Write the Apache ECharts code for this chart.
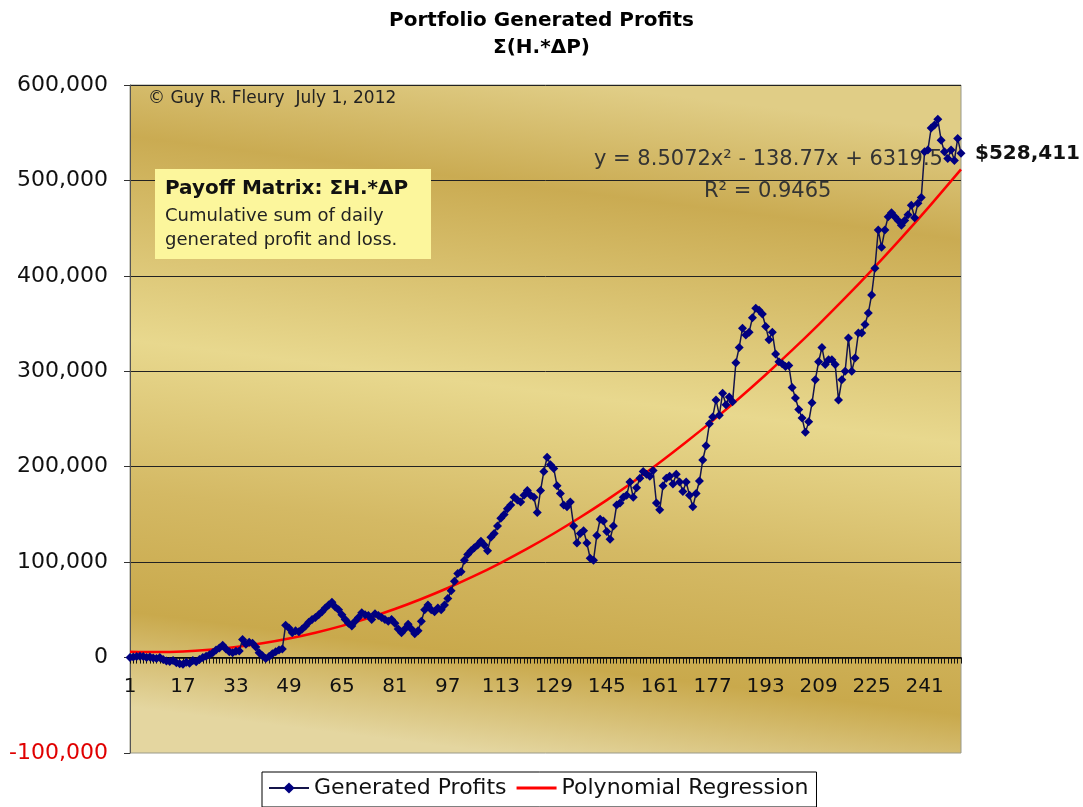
<!DOCTYPE html>
<html>
<head>
<meta charset="utf-8">
<title>Portfolio Generated Profits</title>
<script src="https://cdn.jsdelivr.net/npm/echarts@6/dist/echarts.min.js"></script>
<style>
  html, body { margin: 0; padding: 0; background: #fff; }
  #chart { width: 1083px; height: 807px; }
</style>
</head>
<body>
<div id="chart"></div>
<script>
// values (day 1 .. 252)
const profits = [
  0, 500, 1000, 1500, 1000, 0, 500, -500, -1000, 0,
  -2000, -3500, -4000, -3000, -5500, -6500, -7000, -5000, -6000, -3000,
  -4500, -2000, 0, 1500, 3000, 5000, 8000, 10000, 13000, 9000,
  6000, 5000, 6500, 7000, 19000, 14000, 16000, 15000, 11000, 5000,
  2000, -1000, 1000, 4000, 6000, 8000, 9000, 34000, 31000, 26000,
  28000, 27000, 30000, 33000, 37000, 40000, 42000, 45000, 48000, 52000,
  55000, 58000, 53000, 50000, 45000, 40000, 36000, 33000, 38000, 42000,
  47000, 45000, 44000, 40000, 46000, 44000, 42000, 40000, 38000, 40000,
  36000, 30000, 26000, 30000, 35000, 30000, 25000, 28000, 38000, 50000,
  55000, 50000, 48000, 52000, 50000, 55000, 62000, 70000, 80000, 88000,
  90000, 102000, 108000, 112000, 115000, 118000, 122000, 118000, 112000, 126000,
  130000, 138000, 146000, 150000, 156000, 160000, 168000, 165000, 163000, 170000,
  175000, 170000, 168000, 152000, 175000, 195000, 210000, 202000, 198000, 180000,
  172000, 160000, 158000, 163000, 138000, 120000, 130000, 133000, 120000, 104000,
  102000, 128000, 145000, 143000, 132000, 124000, 138000, 160000, 162000, 168000,
  170000, 184000, 168000, 178000, 188000, 195000, 192000, 190000, 196000, 162000,
  155000, 180000, 188000, 190000, 182000, 192000, 184000, 174000, 184000, 170000,
  158000, 172000, 185000, 207000, 222000, 245000, 252000, 270000, 254000, 277000,
  265000, 273000, 268000, 309000, 325000, 345000, 338000, 341000, 356000, 366000,
  364000, 360000, 347000, 333000, 341000, 318000, 310000, 308000, 305000, 306000,
  283000, 272000, 260000, 251000, 236000, 247000, 267000, 291000, 310000, 325000,
  307000, 312000, 312000, 307000, 270000, 291000, 300000, 335000, 300000, 314000,
  340000, 340000, 349000, 361000, 380000, 408000, 448000, 430000, 448000, 462000,
  466000, 462000, 458000, 453000, 458000, 464000, 474000, 461000, 476000, 482000,
  530000, 532000, 555000, 558000, 564000, 542000, 530000, 523000, 532000, 521000,
  544000, 528411
];

// red trend curve, read every 8 days (index into days)
const trendDays = [0, 8, 16, 24, 32, 40, 48, 56, 64, 72, 80, 88, 96, 104, 112, 120,
  128, 136, 144, 152, 160, 168, 176, 184, 192, 200, 208, 216, 224, 232, 240, 251];
const trendValues = [6200, 5800, 6400, 8200, 11000, 14900, 19900, 26000, 33200, 41500,
  50900, 61400, 72900, 85500, 99300, 114100, 130000, 147000, 165000, 184200,
  204500, 225900, 248300, 271800, 296400, 322100, 348900, 376800, 405800, 435900,
  467000, 511600];

const days = profits.map((v, i) => String(i + 1));
const yTicks = { min: -100000, max: 600000, step: 100000 };

const font = 'DejaVu Sans';
const gridTop = 85;
const gridBottom = 54;
const plotHeight = 807 - gridTop - gridBottom;
// the day axis sits on the zero line, as in the picture
const zeroShift = -plotHeight * (0 - yTicks.min) / (yTicks.max - yTicks.min);

const myChart = echarts.init(document.getElementById('chart'));

const goldBg = new echarts.graphic.LinearGradient(0.55, 0, 0.45, 1, [
  { offset: 0, color: '#e0cd86' },
  { offset: 0.16, color: '#caab52' },
  { offset: 0.46, color: '#e8d88e' },
  { offset: 0.68, color: '#d4b964' },
  { offset: 0.86, color: '#c9a94c' },
  { offset: 1, color: '#e4d6a0' }
]);

myChart.setOption({
  animation: false,
  backgroundColor: '#fff',
  title: {
    text: 'Portfolio Generated Profits',
    subtext: 'Σ(H.*ΔP)',
    left: 'center',
    top: 6,
    itemGap: 7,
    textStyle: { fontFamily: font, fontSize: 20, fontWeight: 'bold', color: '#000' },
    subtextStyle: { fontFamily: font, fontSize: 20, fontWeight: 'bold', color: '#000' }
  },
  legend: {
    left: 262,
    top: 772,
    padding: [5, 8, 8, 6],
    itemGap: 10,
    itemWidth: 40,
    itemHeight: 14,
    borderColor: '#000',
    borderWidth: 1,
    textStyle: { fontFamily: font, fontSize: 22, color: '#111' },
    data: [
      'Generated Profits',
      { name: 'Polynomial Regression', icon: 'path://M0,0 M40,14 M0,5.5 L40,5.5 L40,8.5 L0,8.5 Z' }
    ]
  },
  grid: {
    left: 130,
    right: 122,
    top: gridTop,
    bottom: gridBottom,
    show: true,
    backgroundColor: goldBg,
    borderColor: '#9a9a8a',
    borderWidth: 1
  },
  xAxis: {
    type: 'category',
    data: days,
    boundaryGap: false,
    offset: zeroShift,
    axisLine: { onZero: false, lineStyle: { color: '#000', width: 1.5 } },
    axisTick: { show: true, interval: 0, length: 6, lineStyle: { color: '#111' } },
    axisLabel: {
      interval: 15,
      margin: 19,
      fontFamily: font,
      fontSize: 20,
      color: '#111'
    },
    splitLine: { show: false }
  },
  yAxis: {
    type: 'value',
    min: yTicks.min,
    max: yTicks.max,
    interval: yTicks.step,
    axisLine: { show: true, lineStyle: { color: '#555' } },
    axisTick: { show: true, length: 6, lineStyle: { color: '#333' } },
    axisLabel: {
      margin: 22,
      fontFamily: font,
      fontSize: 22,
      formatter: v => v.toLocaleString('en-US'),
      color: v => (Number(v) < 0 ? '#e00000' : '#111')
    },
    splitLine: { show: true, showMinLine: false, lineStyle: { color: '#222', width: 1 } }
  },
  graphic: [
    {
      type: 'text',
      left: 148,
      top: 90,
      z: 1,
      style: { text: '© Guy R. Fleury  July 1, 2012', font: '17px "DejaVu Sans"', fill: '#222' }
    },
    {
      type: 'group',
      left: 155,
      top: 169,
      z: 1,
      children: [
        { type: 'rect', shape: { x: 0, y: 0, width: 276, height: 90 }, style: { fill: '#fcf69c' }, z: 1 },
        { type: 'text', left: 10, top: 10, z: 1,
          style: { text: 'Payoff Matrix: ΣH.*ΔP', font: 'bold 20px "DejaVu Sans"', fill: '#111' } },
        { type: 'text', left: 10, top: 35, z: 1,
          style: { text: 'Cumulative sum of daily\ngenerated profit and loss.', font: '18px "DejaVu Sans"', fill: '#222', lineHeight: 24 } }
      ]
    },
    {
      type: 'text',
      left: 594,
      top: 149,
      z: 1,
      style: { text: 'y = 8.5072x² - 138.77x + 6319.5', font: '21px "DejaVu Sans"', fill: '#333' }
    },
    {
      type: 'text',
      left: 704,
      top: 181,
      z: 1,
      style: { text: 'R² = 0.9465', font: '21px "DejaVu Sans"', fill: '#333' }
    }
  ],
  series: [
    {
      name: 'Generated Profits',
      type: 'line',
      data: profits,
      symbol: 'diamond',
      symbolSize: 9,
      showAllSymbol: true,
      itemStyle: { color: '#000080' },
      lineStyle: { color: '#14144a', width: 1.5 },
      z: 3,
      endLabel: {
        show: true,
        distance: 14,
        formatter: p => '$' + Number(p.value).toLocaleString('en-US'),
        fontFamily: font,
        fontSize: 20,
        fontWeight: 'bold',
        color: '#111'
      }
    },
    {
      name: 'Polynomial Regression',
      type: 'line',
      data: trendDays.map((d, i) => [d, trendValues[i]]),
      smooth: 0.3,
      symbol: 'none',
      itemStyle: { color: '#ff0000' },
      lineStyle: { color: '#ff0000', width: 2.5 },
      z: 2
    }
  ]
});
</script>
</body>
</html>
